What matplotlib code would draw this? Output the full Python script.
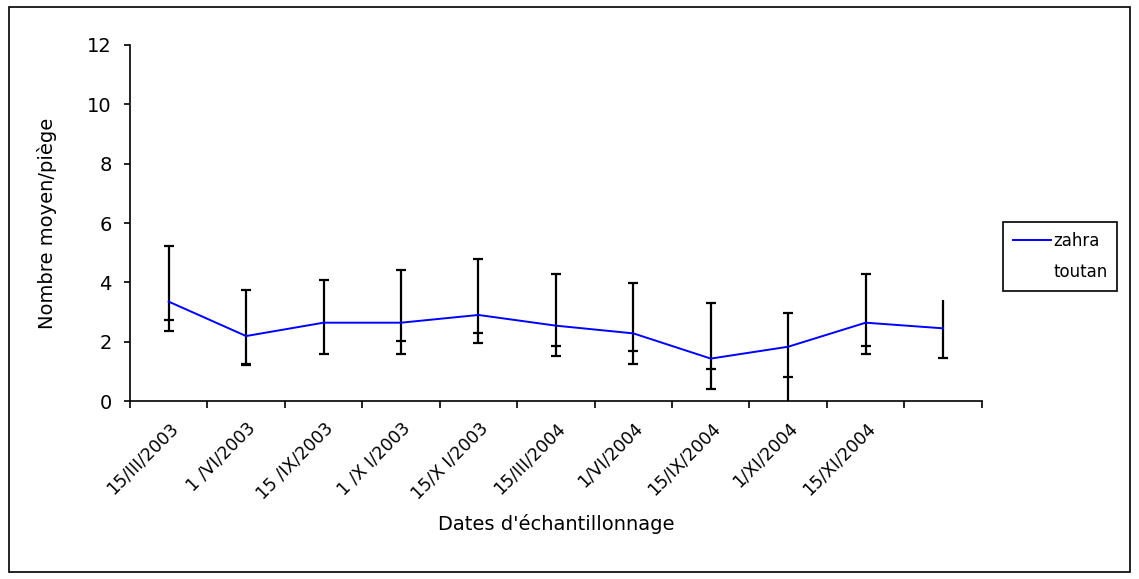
import matplotlib
matplotlib.use("Agg")
import matplotlib.pyplot as plt
from matplotlib.lines import Line2D
from matplotlib.patches import Rectangle

nan = float('nan')
plt.rcParams['font.family'] = ['DejaVu Sans']

# sampling dates (last sample has no label on the axis)
dates = ["15/III/2003", "1 /VI/2003", "15 /IX/2003", "1 /X I/2003", "15/X I/2003",
         "15/III/2004", "1/VI/2004", "15/IX/2004", "1/XI/2004", "15/XI/2004", ""]

# mean catches per trap
zahra = [3.35, 2.19, 2.64, 2.64, 2.90, 2.54, 2.28, 1.43, 1.83, 2.64, 2.45]
zahra_high = [5.22, 3.73, 4.08, 4.43, 4.78, 4.27, 3.99, 3.31, 2.96, 4.27, 3.40]
zahra_low = [2.37, 1.21, 1.60, 1.60, 1.94, 1.52, 1.26, 0.39, -0.25, 1.60, 1.44]

# lower bounds of the toutan bars
toutan_low = [2.72, 1.25, nan, 2.03, 2.28, 1.84, 1.67, 1.08, 0.82, 1.84, nan]

x = list(range(len(zahra)))

fig = plt.figure(figsize=(11.39, 5.79), dpi=100)
ax = fig.add_axes([0.1141, 0.3074, 0.862 - 0.1141, 0.9223 - 0.3074])

yerr = [[m - lo for m, lo in zip(zahra, zahra_low)],
        [hi - m for m, hi in zip(zahra, zahra_high)]]
line, caps, bars = ax.errorbar(x, zahra, yerr=yerr, color='#0000ff', lw=1.4,
                               ecolor='black', elinewidth=1.6, capsize=3.3,
                               capthick=1.6, zorder=3)
# no cap on top of the last bar
caps[1].set_markevery(list(range(len(x) - 1)))
ax.plot(x, toutan_low, ls='none', marker='_', ms=6.6, mew=1.6, color='black', zorder=3)

ax.set_xlim(-0.5, len(x) - 0.5)
ax.set_ylim(0, 12)
ax.set_yticks(range(0, 13, 2))
ax.set_xticks([i - 0.5 for i in range(len(x) + 1)])
ax.set_xticklabels([])
ax.set_xticks(x, minor=True)
ax.set_xticklabels(dates, minor=True, rotation=45, ha='right', va='top',
                   rotation_mode='anchor', fontsize=12.5)
ax.tick_params(axis='x', which='major', direction='out', length=5, width=1.2)
ax.tick_params(axis='x', which='minor', length=0, pad=13)
ax.tick_params(axis='y', direction='out', length=4, width=1.2, labelsize=14, pad=9)

for s in ['top', 'right']:
    ax.spines[s].set_visible(False)
for s in ['left', 'bottom']:
    ax.spines[s].set_linewidth(1.2)

ax.set_ylabel("Nombre moyen/piège", fontsize=14, labelpad=22)
ax.set_xlabel("Dates d'échantillonnage", fontsize=14, labelpad=8)

handles = [Line2D([], [], color='#0000ff', lw=1.4),
           Line2D([], [], ls='none')]
leg = fig.legend(handles, ['zahra', 'toutan'], loc='upper left',
                 bbox_to_anchor=(0.8806, 0.6166), fontsize=12, frameon=True,
                 fancybox=False, edgecolor='black', framealpha=1,
                 handlelength=2.3, handletextpad=0.1, borderpad=0.6,
                 labelspacing=0.8, borderaxespad=0)
leg.get_frame().set_linewidth(1.2)

# outer frame around the chart area
fig.patches.append(Rectangle((0.008, 0.012), 0.984, 0.976, transform=fig.transFigure,
                             fill=False, edgecolor='black', lw=1.2))

fig.savefig("out.png", dpi=100)
